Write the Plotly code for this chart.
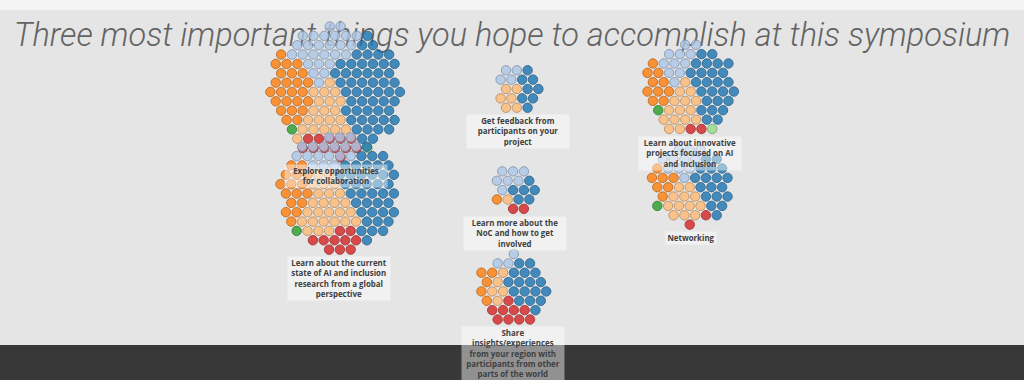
import numpy as np
import plotly.graph_objects as go

# ---------------- data ----------------
questions = [
    "Explore opportunities<br>for collaboration",
    "Learn about the current<br>state of AI and inclusion<br>research from a global<br>perspective",
    "Get feedback from<br>participants on your<br>project",
    "Learn more about the<br>NoC and how to get<br>involved",
    "Share<br>insights/experiences<br>from your region with<br>participants from other<br>parts of the world",
    "Learn about innovative<br>projects focused on AI<br>and Inclusion",
    "Networking",
]
category_names = ["orange", "light orange", "light blue", "blue", "red", "green", "light green"]
category_colors = ["#ff7f0e", "#ffbb78", "#aec7e8", "#1f77b4", "#d62728", "#2ca02c", "#98df8a"]

orange = [24, 16, 0, 1, 5, 10, 7]
light_orange = [20, 26, 6, 1, 5, 15, 12]
light_blue = [26, 18, 4, 7, 3, 11, 11]
blue = [52, 40, 8, 6, 17, 26, 18]
red = [12, 10, 0, 2, 9, 2, 2]
green = [1, 1, 0, 0, 0, 1, 1]
light_green = [1, 0, 0, 0, 0, 1, 0]

title_text = "Three most important things you hope to accomplish at this symposium"

# ---------------- layout config (pixel space) ----------------
W, H = 1024, 380
cluster_centers = [(336, 91), (339, 193), (518, 89), (515, 189), (513, 290), (690, 89), (691, 185)]
label_widths = [100, 100, 100, 100, 100, 100, 48]
spacing = 10.8
dot_size = 9.4
# preferred region of each category inside a cluster (units of cluster radius, y down)
anchors = [(-1.0, -0.1), (-0.1, 0.35), (-0.2, -0.8), (0.9, -0.1), (0.0, 1.0), (-0.8, 0.6), (0.6, 0.7)]
greedy_order = [5, 6, 4, 0, 3, 2, 1]


def hex_cells(n, s):
    k = int(np.ceil(np.sqrt(n))) + 5
    pts = []
    for r in range(-k, k + 1):
        for c in range(-k, k + 1):
            pts.append(((c + 0.5 * (r % 2)) * s, r * s * np.sqrt(3) / 2))
    pts = np.array(pts)
    d = np.hypot(pts[:, 0], pts[:, 1])
    ang = np.arctan2(pts[:, 1], pts[:, 0])
    order = np.lexsort((ang, np.round(d, 6)))
    sel = pts[order[:n]]
    return sel - sel.mean(axis=0)


def assign(cells, counts):
    n = len(cells)
    R = np.hypot(cells[:, 0], cells[:, 1]).max()
    A = np.array(anchors) * R
    C = ((cells[:, None, :] - A[None, :, :]) ** 2).sum(-1)
    lab = np.full(n, -1)
    free = np.ones(n, bool)
    for cat in greedy_order:
        cnt = counts[cat]
        if cnt == 0:
            continue
        idx = np.where(free)[0]
        pick = idx[np.argsort(C[idx, cat], kind="stable")[:cnt]]
        lab[pick] = cat
        free[pick] = False
    improved = True
    it = 0
    while improved and it < 30:
        improved = False
        it += 1
        for i in range(n):
            for j in range(i + 1, n):
                a, b = lab[i], lab[j]
                if a == b:
                    continue
                delta = C[i, b] + C[j, a] - C[i, a] - C[j, b]
                if delta < -1e-9:
                    lab[i], lab[j] = b, a
                    improved = True
    return lab


def darker(hexc, k=0.72):
    r, g, b = int(hexc[1:3], 16), int(hexc[3:5], 16), int(hexc[5:7], 16)
    return "rgb(%d,%d,%d)" % (r * k, g * k, b * k)


series = [orange, light_orange, light_blue, blue, red, green, light_green]

fig = go.Figure()
# title drawn as text trace so dots sit above it
fig.add_trace(go.Scatter(
    x=[W / 2], y=[38], mode="text", text=[title_text], hoverinfo="skip",
    textfont=dict(family="Roboto", size=32.5, color="#636363", style="italic", weight=300),
    showlegend=False))

annotations = []
for qi, q in enumerate(questions):
    counts = [s[qi] for s in series]
    n = sum(counts)
    cells = hex_cells(n, spacing)
    lab = assign(cells, counts)
    cx, cy = cluster_centers[qi]
    xs = cells[:, 0] + cx
    ys = cells[:, 1] + cy
    fig.add_trace(go.Scatter(
        x=xs, y=ys, mode="markers", showlegend=False,
        text=[category_names[l] for l in lab], hoverinfo="text",
        marker=dict(size=dot_size, color=[category_colors[l] for l in lab], opacity=0.82,
                    line=dict(width=1, color=[darker(category_colors[l]) for l in lab]))))
    bottom = ys.max() + dot_size / 2
    annotations.append(dict(
        x=cx, y=bottom + 2, xref="x", yref="y", xanchor="center", yanchor="top",
        text=q, showarrow=False, align="center", width=label_widths[qi],
        font=dict(family="Open Sans", size=7.9, color="#404040", weight=700),
        bgcolor="rgba(255,255,255,0.45)", borderpad=1))

shapes = [
    dict(type="rect", xref="paper", yref="y", x0=0, x1=1, y0=0, y1=10,
         fillcolor="#f3f3f3", line_width=0, layer="below"),
    dict(type="rect", xref="paper", yref="y", x0=0, x1=1, y0=345, y1=380,
         fillcolor="#383838", line_width=0, layer="below"),
]

fig.update_layout(
    width=W, height=H, margin=dict(l=0, r=0, t=0, b=0),
    paper_bgcolor="#e5e5e5", plot_bgcolor="#e5e5e5",
    xaxis=dict(range=[0, W], visible=False, fixedrange=True),
    yaxis=dict(range=[H, 0], visible=False, fixedrange=True),
    shapes=shapes, annotations=annotations, showlegend=False,
)
fig.write_html("out.html", config={"displayModeBar": False},
               post_script="document.body.style.margin='0';document.body.style.overflow='hidden';")
